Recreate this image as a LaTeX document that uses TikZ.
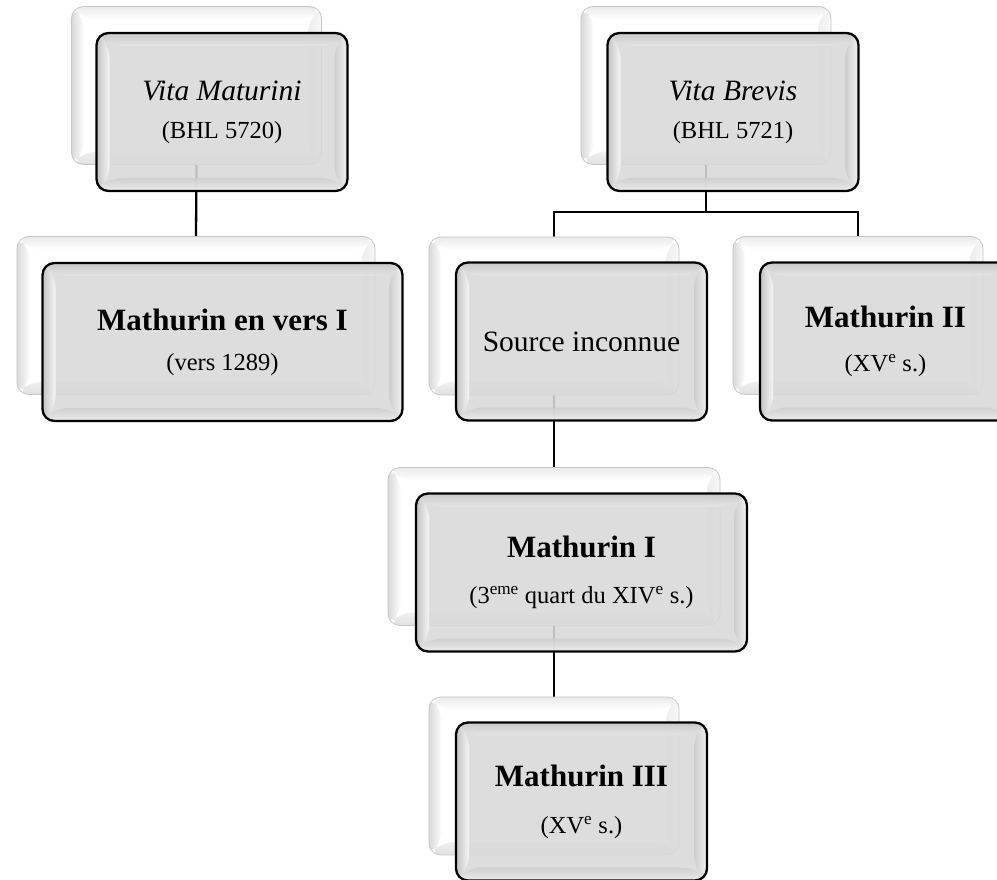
\documentclass[tikz,border=0pt]{standalone}
\usepackage{fontspec}
\setmainfont{Liberation Serif}
\usetikzlibrary{calc}
\definecolor{facegray}{HTML}{D9D9D9}
\pgfdeclarelayer{backlayer}
\pgfdeclarelayer{linklayer}
\pgfsetlayers{backlayer,linklayer,main}
\def\bvw{13pt}
\newcommand\mybevel[8]{%
  \coordinate (bvSW) at (path picture bounding box.south west);
  \coordinate (bvNE) at (path picture bounding box.north east);
  \coordinate (bvNW) at (bvSW|-bvNE);
  \coordinate (bvSE) at (bvNE|-bvSW);
  \shade[top color=#1,bottom color=#2] (bvNW) -- (bvNE) -- ([shift={(-\bvw,-\bvw)}]bvNE) -- ([shift={(\bvw,-\bvw)}]bvNW) -- cycle;
  \shade[left color=#3,right color=#4] (bvNW) -- (bvSW) -- ([shift={(\bvw,\bvw)}]bvSW) -- ([shift={(\bvw,-\bvw)}]bvNW) -- cycle;
  \shade[left color=#5,right color=#6] (bvNE) -- (bvSE) -- ([shift={(-\bvw,\bvw)}]bvSE) -- ([shift={(-\bvw,-\bvw)}]bvNE) -- cycle;
  \shade[top color=#7,bottom color=#8] (bvSW) -- (bvSE) -- ([shift={(-\bvw,\bvw)}]bvSE) -- ([shift={(\bvw,\bvw)}]bvSW) -- cycle;
}
\newcommand\smallline{\fontsize{24.5}{28}\selectfont}
\newcommand\boldline{\fontsize{31}{38}\selectfont\bfseries}
\tikzset{
  backbox/.style={rectangle, rounded corners=12pt, draw=gray!45, line width=0.8pt,
    fill=white, minimum height=158pt, inner sep=0pt,
    path picture={\mybevel{white!92!black}{white}{white!85!black}{white}{white!93!black}{white!97!black}{white!94!black}{white!88!black}}},
  frontbox/.style={rectangle, rounded corners=12pt, draw=black, line width=2.3pt,
    fill=facegray, fill opacity=0.88, text opacity=1, draw opacity=1,
    minimum height=158pt, inner sep=0pt, align=center,
    font=\fontsize{29.5}{38}\selectfont,
    path picture={\mybevel{white!78!black}{white!90!black}{white!75!black}{white!98!black}{white!80!black}{white!96!black}{white!81!black}{white!93!black}}},
  link/.style={draw=black, line width=2.3pt}
}
\begin{document}
\begin{tikzpicture}[x=1pt,y=-1pt]
\begin{pgfonlayer}{backlayer}
  \fill[white] (0,0) rectangle (997,880);
\end{pgfonlayer}
\useasboundingbox (0,0) rectangle (997,880);

% back boxes
\node[backbox, minimum width=250pt] (b1) at (196.5,85.5) {};
\node[backbox, minimum width=358pt] (b2) at (196,315.5) {};
\node[backbox, minimum width=250pt] (b3) at (706,85.5) {};
\node[backbox, minimum width=250pt] (b4) at (554,316) {};
\node[backbox, minimum width=250pt] (b5) at (858,315.5) {};
\node[backbox, minimum width=332pt] (b6) at (554,546.5) {};
\node[backbox, minimum width=250pt] (b7) at (554,776) {};

% front boxes
\node[frontbox, minimum width=251pt] (f1) at (222,112) {\textit{Vita Maturini}\\{\smallline (BHL 5720)}};
\node[frontbox, minimum width=360pt] (f2) at (222.5,342) {{\boldline Mathurin en vers I}\\[2pt]{\smallline (vers 1289)}};
\node[frontbox, minimum width=251pt] (f3) at (733,112) {\textit{Vita Brevis}\\{\smallline (BHL 5721)}};
\node[frontbox, minimum width=251pt] (f4) at (581.5,341.5) {Source inconnue};
\node[frontbox, minimum width=251pt] (f5) at (885.5,341.5) {{\boldline Mathurin II}\\[6pt]{\smallline (XV\textsuperscript{e} s.)}};
\node[frontbox, minimum width=331pt] (f6) at (581.5,572.5) {{\boldline Mathurin I}\\[8pt]{\smallline (3\textsuperscript{eme} quart du XIV\textsuperscript{e} s.)}};
\node[frontbox, minimum width=251pt] (f7) at (581.5,801.5) {{\boldline Mathurin III}\\[9pt]{\smallline (XV\textsuperscript{e} s.)}};

\coordinate (j3) at (706,212);
\begin{pgfonlayer}{linklayer}
  \draw[link] (b1.south) -- (b2.north);
  \draw[link] (b3.south) -- (j3);
  \draw[link] (b4.north) |- (j3) -| (b5.north);
  \draw[link] (b4.south) -- (b6.north);
  \draw[link] (b6.south) -- (b7.north);
\end{pgfonlayer}
\end{tikzpicture}
\end{document}
